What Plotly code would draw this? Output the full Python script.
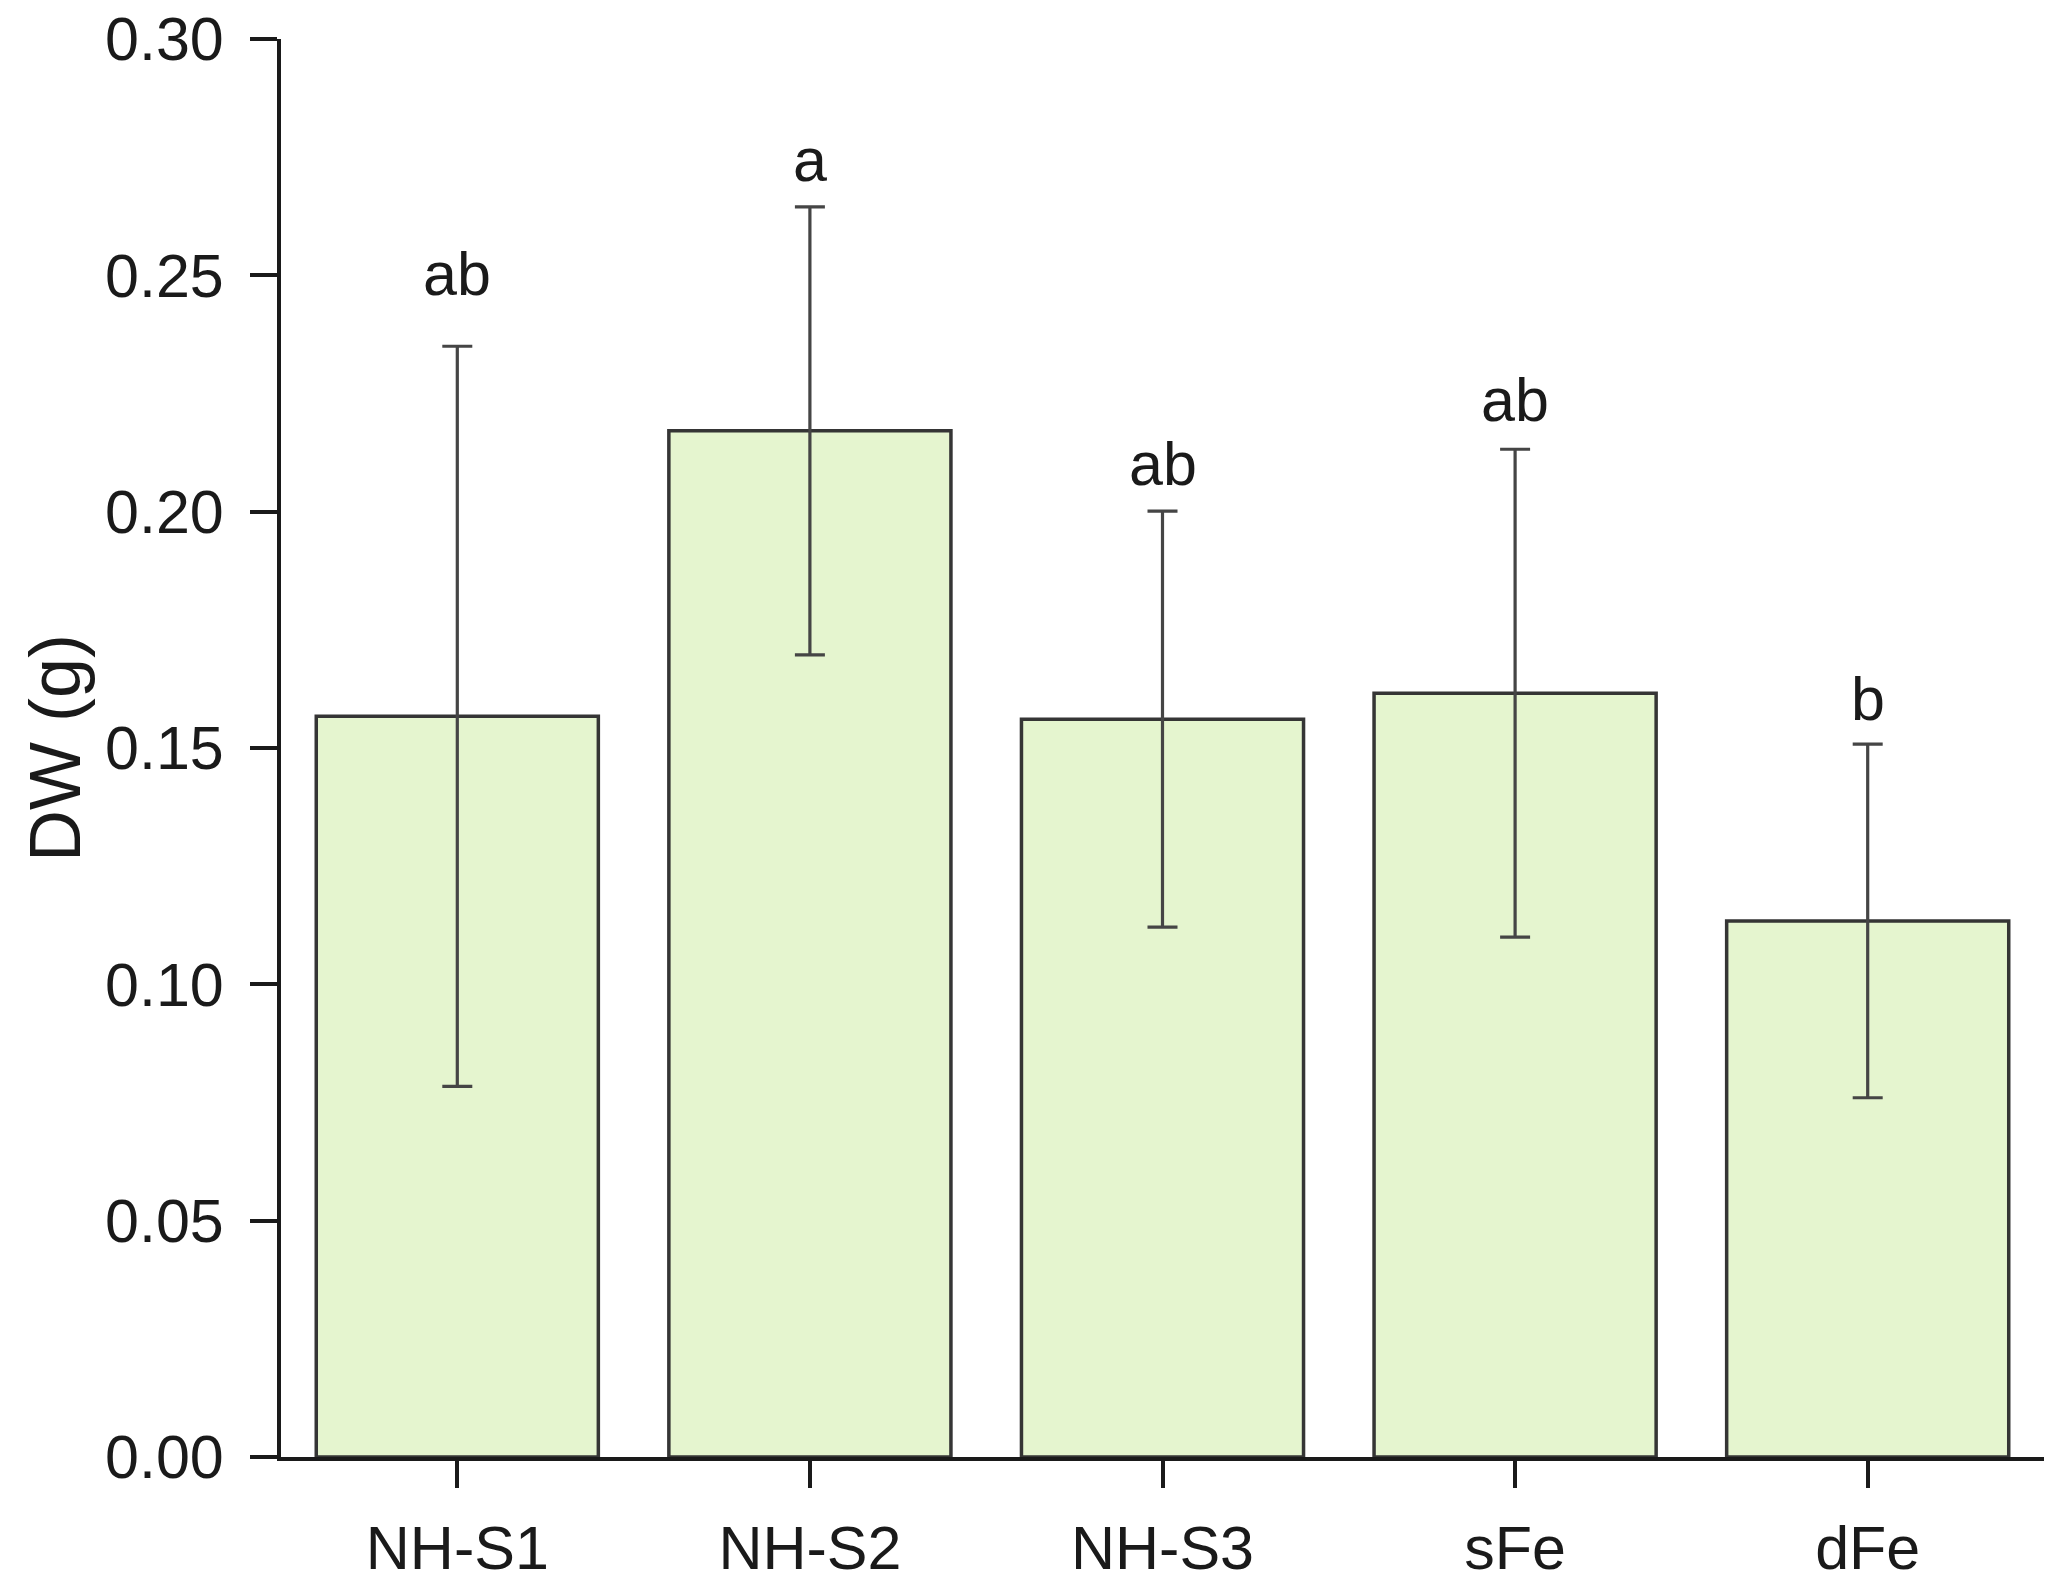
import plotly.graph_objects as go

categories = ["NH-S1", "NH-S2", "NH-S3", "sFe", "dFe"]
dw_mean = [0.1567, 0.2171, 0.1561, 0.1616, 0.1134]
dw_err = [0.0783, 0.0474, 0.0440, 0.0516, 0.0374]
letters = ["ab", "a", "ab", "ab", "b"]
letter_y = [0.2456, 0.2697, 0.2054, 0.2190, 0.1558]
y_ticks = [0.00, 0.05, 0.10, 0.15, 0.20, 0.25, 0.30]

FONT = "Arial, 'Liberation Sans', sans-serif"

fig = go.Figure()
fig.add_trace(go.Bar(
    x=categories,
    y=dw_mean,
    width=0.8,
    marker=dict(color="#E5F5CF", line=dict(color="#353535", width=3.5)),
    error_y=dict(type="data", array=dw_err, visible=True,
                 color="#454545", thickness=3.2, width=15),
    showlegend=False,
))

for c, t, ly in zip(categories, letters, letter_y):
    fig.add_annotation(x=c, y=ly, xref="x", yref="y", text=t,
                       showarrow=False, yanchor="bottom", xanchor="center",
                       yshift=-14,
                       font=dict(family=FONT, size=61, color="#1a1a1a"))

fig.update_layout(
    width=2070, height=1591,
    margin=dict(l=281, r=26, t=39, b=134),
    paper_bgcolor="white", plot_bgcolor="white",
    bargap=0.2,
    font=dict(family=FONT, color="#1a1a1a"),
)
fig.update_xaxes(
    type="category", range=[-0.5, 4.5], automargin=False,
    showline=True, linecolor="#1a1a1a", linewidth=4,
    ticks="outside", ticklen=27, tickwidth=4, tickcolor="#1a1a1a",
    tickfont=dict(family=FONT, size=61, color="#1a1a1a"),
    ticklabelstandoff=8,
    showgrid=False, zeroline=False,
)
fig.update_yaxes(
    range=[0, 0.30], tickvals=y_ticks, tickformat=".2f", automargin=False,
    showline=True, linecolor="#1a1a1a", linewidth=4,
    ticks="outside", ticklen=27, tickwidth=4, tickcolor="#1a1a1a",
    tickfont=dict(family=FONT, size=61, color="#1a1a1a"),
    ticklabelstandoff=14,
    title=dict(text="DW (g)", font=dict(family=FONT, size=72, color="#1a1a1a"),
               standoff=2),
    showgrid=False, zeroline=False,
)

fig.write_html(
    "out.html",
    config={"displayModeBar": False},
    post_script="document.body.style.margin='0';document.body.style.overflow='hidden';",
)
